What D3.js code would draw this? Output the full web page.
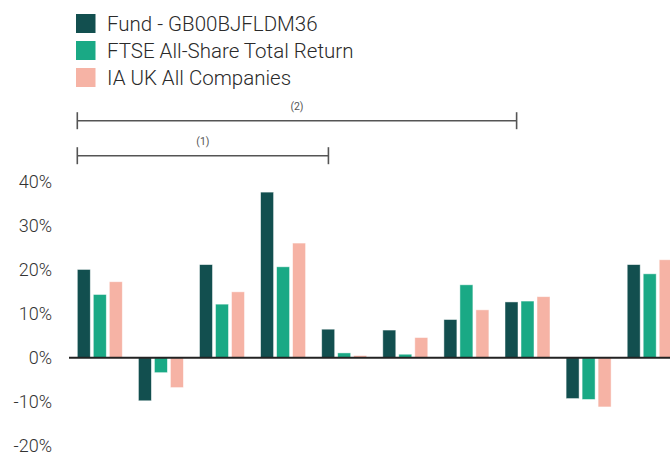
<!DOCTYPE html>
<html>
<head>
<meta charset="utf-8">
<script src="https://cdn.jsdelivr.net/npm/d3@7"></script>
<style>
  body { margin: 0; background: #fff; }
  svg { display: block; font-family: Roboto, "Liberation Sans", sans-serif; }
</style>
</head>
<body>
<div id="chart"></div>
<script>
// discrete periods (no labels shown on the chart)
const periods = ["P1", "P2", "P3", "P4", "P5", "P6", "P7", "P8", "P9", "P10"];
const seriesNames = ["Fund - GB00BJFLDM36", "FTSE All-Share Total Return", "IA UK All Companies"];
const fundValues = [20.1, -9.8, 21.2, 37.7, 6.5, 6.3, 8.7, 12.7, -9.3, 21.2];
const ftseValues = [14.4, -3.4, 12.2, 20.7, 1.1, 0.8, 16.6, 12.9, -9.5, 19.1];
const iaValues = [17.3, -6.8, 15.0, 26.1, 0.5, 4.6, 10.9, 13.9, -11.2, 22.3];
const yTicks = [-20, -10, 0, 10, 20, 30, 40];
// bracket spans, in period units from the start of the first period
const bracketLabels = ["(2)", "(1)"];
const bracketEnds = [7.19, 4.11];

const colors = ["#124f4f", "#1aa985", "#f6b3a5"];
const width = 670, height = 455;

const svg = d3.select("#chart").append("svg")
	.attr("width", width).attr("height", height);

const y = d3.scaleLinear().domain([-20, 40]).range([445.6, 182.0]);

const x = d3.scaleBand().domain(periods)
	.range([77.3, 672.2]).paddingInner(0.2635).paddingOuter(0);
const xs = d3.scaleBand().domain(seriesNames)
	.range([0, x.bandwidth()]).paddingInner(0.1875).paddingOuter(0);
// continuous position in period units for the brackets
const xp = d3.scaleLinear().domain([0, 1]).range([x(periods[0]), x(periods[1])]);

// legend
const legend = svg.append("g");
seriesNames.forEach((name, i) => {
	const g = legend.append("g").attr("transform", `translate(76,${14 + i * 27})`);
	g.append("rect").attr("width", 19.5).attr("height", 19).attr("fill", colors[i]);
	g.append("text").attr("x", 31).attr("y", 16.5)
		.attr("font-size", 20.5).attr("font-weight", 300)
		.attr("fill", "#2a2a2a").text(name);
});

// brackets
bracketLabels.forEach((label, i) => {
	const yy = 120.7 + i * 35;
	const x0 = xp(0), x1 = xp(bracketEnds[i]);
	const g = svg.append("g").attr("stroke", "#555").attr("stroke-width", 1.6);
	g.append("line").attr("x1", x0).attr("x2", x1).attr("y1", yy).attr("y2", yy);
	g.append("line").attr("x1", x0).attr("x2", x0).attr("y1", yy - 8.5).attr("y2", yy + 8.5);
	g.append("line").attr("x1", x1).attr("x2", x1).attr("y1", yy - 8.5).attr("y2", yy + 8.5);
	svg.append("text").attr("x", (x0 + x1) / 2).attr("y", yy - 11)
		.attr("text-anchor", "middle").attr("font-size", 10.5).attr("fill", "#555")
		.text(label);
});

// y axis labels
const yAxis = svg.append("g")
	.attr("transform", "translate(52,0)")
	.call(d3.axisLeft(y).tickValues(yTicks).tickSize(0).tickPadding(0)
		.tickFormat(d => d + "%"));
yAxis.select(".domain").remove();
yAxis.selectAll("text").attr("font-size", 18).attr("font-weight", 300).attr("fill", "#333")
	.attr("font-family", "Roboto, 'Liberation Sans', sans-serif");

// bars
const data = periods.map((p, i) => ({
	period: p,
	values: [fundValues[i], ftseValues[i], iaValues[i]]
}));
const groups = svg.append("g").selectAll("g").data(data).join("g")
	.attr("transform", d => `translate(${x(d.period)},0)`);
groups.selectAll("rect")
	.data(d => d.values.map((v, j) => ({ name: seriesNames[j], v, j })))
	.join("rect")
	.attr("x", d => xs(d.name))
	.attr("width", xs.bandwidth())
	.attr("y", d => y(Math.max(0, d.v)))
	.attr("height", d => Math.abs(y(d.v) - y(0)))
	.attr("fill", d => colors[d.j])
	.attr("stroke", "rgba(255,255,255,0.6)")
	.attr("stroke-width", 0.8);

// zero line
svg.append("line")
	.attr("x1", 69).attr("x2", width)
	.attr("y1", y(0)).attr("y2", y(0))
	.attr("stroke", "#222").attr("stroke-width", 2);
</script>
</body>
</html>
